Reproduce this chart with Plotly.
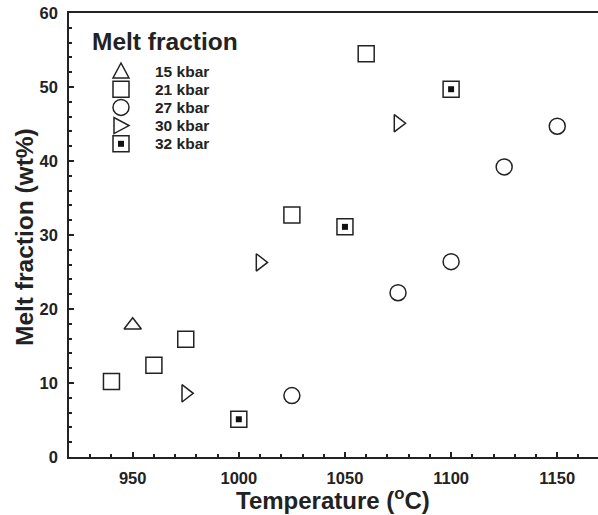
import plotly.graph_objects as go

# ---- data ----
series_names = ["15 kbar", "21 kbar", "27 kbar", "30 kbar", "32 kbar"]
t15 = [950]
m15 = [17.8]
t21 = [940, 960, 975, 1025, 1060]
m21 = [10.2, 12.4, 15.9, 32.7, 54.5]
t27 = [1025, 1075, 1100, 1125, 1150]
m27 = [8.3, 22.2, 26.4, 39.2, 44.7]
t30 = [975, 1010, 1075]
m30 = [8.6, 26.3, 45.1]
t32 = [1000, 1050, 1100]
m32 = [5.1, 31.1, 49.7]

x_ticks = [950, 1000, 1050, 1100, 1150]
y_ticks = [0, 10, 20, 30, 40, 50, 60]

# ---- style ----
W, H = 598, 515
ML, MR, MT, MB = 69, 0, 13, 58
PW, PH = W - ML - MR, H - MT - MB
INK = "#222222"
FONT = "Liberation Sans"
MSIZE = 16
LW = 1.5

fig = go.Figure()

def add_series(x, y, symbol, size=MSIZE):
    fig.add_trace(go.Scatter(
        x=x, y=y, mode="markers", showlegend=False,
        marker=dict(symbol=symbol, size=size, color="white",
                    line=dict(color=INK, width=LW)),
        hoverinfo="skip"))

def add_inner(x, y):
    fig.add_trace(go.Scatter(
        x=x, y=y, mode="markers", showlegend=False,
        marker=dict(symbol="square", size=6, color="#111111",
                    line=dict(width=0)),
        hoverinfo="skip"))

add_series(t15, m15, "triangle-up", 15)
add_series(t21, m21, "square")
add_series(t27, m27, "circle")
add_series(t30, m30, "triangle-right", 15)
add_series(t32, m32, "square")
add_inner(t32, m32)

# ---- manual legend (layout shapes + annotations, paper coords) ----
def px_to_paper(X, Y):
    return (X - ML) / PW, (H - MB - Y) / PH

leg_sym_px = 121
leg_txt_px = 153
leg_y0_px = 71
leg_step = 18.2

shape_specs = [
    ("path", "M-8,-7 L8,-7 L0,8 Z"),
    ("rect", None),
    ("circle", None),
    ("path", "M-7,-8 L-7,8 L8,0 Z"),
    ("rect", None),
]
for i, (name, (kind, path)) in enumerate(zip(series_names, shape_specs)):
    ax, ay = px_to_paper(leg_sym_px, leg_y0_px + i * leg_step)
    common = dict(xref="paper", yref="paper", xsizemode="pixel", ysizemode="pixel",
                  xanchor=ax, yanchor=ay, line=dict(color=INK, width=LW),
                  fillcolor="white", layer="above")
    if kind == "path":
        fig.add_shape(type="path", path=path, **common)
    else:
        fig.add_shape(type=kind, x0=-8, x1=8, y0=-8, y1=8, **common)
    if i == 4:
        fig.add_shape(type="rect", x0=-3, x1=3, y0=-3, y1=3, xref="paper", yref="paper",
                      xsizemode="pixel", ysizemode="pixel", xanchor=ax, yanchor=ay,
                      line=dict(width=0), fillcolor="#111111", layer="above")
    tx, ty = px_to_paper(leg_txt_px, leg_y0_px + i * leg_step)
    fig.add_annotation(x=tx, y=ty, xref="paper", yref="paper", text=name,
                       showarrow=False, xanchor="left", yanchor="middle",
                       font=dict(family=FONT, size=15.5, color=INK, weight="bold"))
lx, ly = px_to_paper(90, 41)
fig.add_annotation(x=lx, y=ly, xref="paper", yref="paper", text="Melt fraction",
                   showarrow=False, xanchor="left", yanchor="middle",
                   font=dict(family=FONT, size=24.5, color=INK, weight="bold"))

# axis titles
tx, ty = px_to_paper(333, 499)
fig.add_annotation(x=tx, y=ty, xref="paper", yref="paper",
                   text="Temperature (<sup>o</sup>C)", showarrow=False,
                   xanchor="center", yanchor="middle",
                   font=dict(family=FONT, size=24, color=INK, weight="bold"))
tx, ty = px_to_paper(25, 237)
fig.add_annotation(x=tx, y=ty, xref="paper", yref="paper",
                   text="Melt fraction (wt%)", showarrow=False, textangle=-90,
                   xanchor="center", yanchor="middle",
                   font=dict(family=FONT, size=24.5, color=INK, weight="bold"))

tickfont = dict(family=FONT, size=16.5, color=INK, weight="bold")
fig.update_layout(
    width=W, height=H,
    margin=dict(l=ML, r=MR, t=MT, b=MB, pad=0),
    paper_bgcolor="white", plot_bgcolor="white",
    xaxis=dict(range=[920, 1169.2], tickvals=x_ticks, ticks="inside", ticklen=5,
               tickwidth=2, tickcolor=INK, showgrid=False, zeroline=False,
               showline=True, linecolor=INK, linewidth=2, mirror=True,
               tickfont=tickfont, ticklabelstandoff=5,
               minor=dict(dtick=10, ticks="inside", ticklen=3, tickwidth=2,
                          tickcolor=INK, showgrid=False)),
    yaxis=dict(range=[0, 60], tickvals=y_ticks, ticks="inside", ticklen=5,
               tickwidth=1.5, tickcolor=INK, showgrid=False, zeroline=False,
               showline=True, linecolor=INK, linewidth=1.5, mirror=False,
               tickfont=tickfont, ticklabelstandoff=6,
               minor=dict(dtick=2, ticks="inside", ticklen=3, tickwidth=1.5,
                          tickcolor=INK, showgrid=False)),
    showlegend=False,
)

fig.write_html("out.html", config={"displayModeBar": False},
               post_script="document.body.style.margin='0';document.body.style.overflow='hidden';")
